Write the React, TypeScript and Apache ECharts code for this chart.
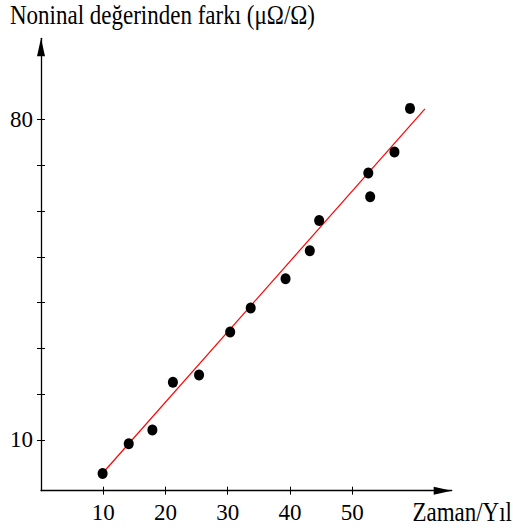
import React, { useEffect, useRef } from "react";
import * as echarts from "echarts";

// ---- data ----
const titleText = "Noninal değerinden farkı (μΩ/Ω)";
const xName = "Zaman/Yıl";
const xTickValues = [10, 20, 30, 40, 50];
const yTickValues = [10, 20, 30, 40, 50, 60, 70, 80];
const yLabelValues = [10, 80];
const years = [9.9, 14.1, 17.9, 21.2, 25.4, 30.4, 33.7, 39.3, 43.2, 44.7, 52.9, 52.6, 56.8, 59.3];
const deviation = [2.7, 9.2, 12.2, 22.6, 24.2, 33.6, 38.8, 45.2, 51.3, 57.9, 63.1, 68.3, 72.9, 82.4];
const fitYears = [10, 61.7];
const fitDeviation = [2.9, 82.3];

const X_MIN = 0;
const X_MAX = 66;
const Y_MIN = -1.07;
const Y_MAX = 97.7;

const FONT_FAMILY = "Liberation Serif";

export default function App() {
  const ref = useRef<HTMLDivElement>(null);

  useEffect(() => {
    if (!ref.current) return;
    const chart = echarts.init(ref.current, null, { renderer: "svg" });
    const axisLineStyle = { color: "#000", width: 1.3 };
    const tickStyle = { color: "#000", width: 1 };

    const points = years.map((x, i) => [x, deviation[i]]);
    const fit = fitYears.map((x, i) => [x, fitDeviation[i]]);

    chart.setOption({
      animation: false,
      backgroundColor: "#fff",
      grid: {
        left: 41,
        right: 61.3,
        top: 38.3,
        bottom: 41.3,
        containLabel: false,
        outerBoundsMode: "none",
      },
      xAxis: [
        {
          type: "value",
          min: X_MIN,
          max: X_MAX,
          position: "bottom",
          axisLine: {
            onZero: false,
            symbol: ["none", "triangle"],
            symbolSize: [8, 18],
            symbolOffset: [0, -9],
            lineStyle: axisLineStyle,
          },
          axisTick: { show: true, customValues: xTickValues, length: 4, inside: false, lineStyle: tickStyle },
          axisLabel: {
            customValues: xTickValues,
            fontFamily: FONT_FAMILY,
            fontSize: 23,
            color: "#000",
            margin: 10,
          },
          splitLine: { show: false },
        },
        {
          type: "value",
          min: X_MIN,
          max: X_MAX,
          position: "bottom",
          axisLine: { show: false, onZero: false },
          axisTick: { show: true, customValues: xTickValues, length: 4, inside: true, lineStyle: tickStyle },
          axisLabel: { show: false },
          splitLine: { show: false },
        },
      ],
      yAxis: [
        {
          type: "value",
          min: Y_MIN,
          max: Y_MAX,
          position: "left",
          axisLine: {
            onZero: false,
            symbol: ["none", "triangle"],
            symbolSize: [8, 18],
            symbolOffset: [0, -9],
            lineStyle: axisLineStyle,
          },
          axisTick: { show: true, customValues: yTickValues, length: 4, inside: false, lineStyle: tickStyle },
          axisLabel: {
            customValues: yLabelValues,
            fontFamily: FONT_FAMILY,
            fontSize: 23,
            color: "#000",
            margin: 8,
          },
          splitLine: { show: false },
        },
        {
          type: "value",
          min: Y_MIN,
          max: Y_MAX,
          position: "left",
          axisLine: { show: false, onZero: false },
          axisTick: { show: true, customValues: yTickValues, length: 4, inside: true, lineStyle: tickStyle },
          axisLabel: { show: false },
          splitLine: { show: false },
        },
      ],
      graphic: [
        {
          type: "text",
          x: 10,
          y: 0,
          scaleY: 1.2,
          style: {
            text: titleText,
            fontFamily: FONT_FAMILY,
            fontSize: 23,
            fill: "#000",
            align: "left",
            verticalAlign: "top",
          },
        },
        {
          type: "text",
          x: 512,
          y: 497,
          scaleY: 1.2,
          style: {
            text: xName,
            fontFamily: FONT_FAMILY,
            fontSize: 23,
            fill: "#000",
            align: "right",
            verticalAlign: "top",
          },
        },
      ],
      series: [
        {
          type: "line",
          data: fit,
          xAxisIndex: 0,
          yAxisIndex: 0,
          symbol: "none",
          lineStyle: { color: "#ff0000", width: 1.2 },
          z: 2,
        },
        {
          type: "scatter",
          data: points,
          xAxisIndex: 0,
          yAxisIndex: 0,
          symbol: "circle",
          symbolSize: [10, 11],
          itemStyle: { color: "#000", opacity: 1 },
          z: 3,
        },
      ],
    });
    return () => chart.dispose();
  }, []);

  return (
    <div
      ref={ref}
      style={{ position: "fixed", left: 0, top: 0, width: 513, height: 532, background: "#fff" }}
    />
  );
}
